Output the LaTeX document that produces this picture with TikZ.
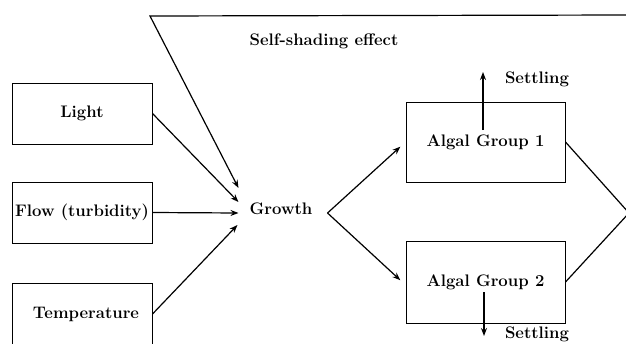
\documentclass[tikz,border=0pt]{standalone}
\usetikzlibrary{arrows.meta,calc}
\begin{document}
\begin{tikzpicture}[x=1pt,y=-1pt,
  every node/.style={font=\fontsize{16.7}{20}\selectfont\bfseries},
  box/.style={draw,line width=1pt,minimum width=140pt,minimum height=61pt,inner sep=0pt},
  agbox/.style={draw,line width=1pt,minimum width=159pt,inner sep=0pt},
  lbl/.style={inner sep=0pt},
  conn/.style={line width=1.2pt},
  arr/.style={conn,-{Stealth[length=8pt,width=6pt]}}]
\clip (0,0) rectangle (626,343);
\useasboundingbox (0,0) rectangle (626,343);
% input boxes
\node[box] (light) at (82,113.5) {Light};
\node[box] (flow) at (82,212.5) {Flow (turbidity)};
\node[box] (temp) at (82,314) {\hspace*{8pt}Temperature};
% growth
\node[lbl,inner xsep=13pt] (growth) at (281,209) {Growth};
% algal groups
\node[agbox,minimum height=80pt] (ag1) at (485.5,142) {Algal Group 1};
\node[agbox,minimum height=82pt] (ag2) at (485.5,282) {Algal Group 2};
% settling labels
\node[lbl] (set1) at (537,79) {Settling};
\node[lbl] (set2) at (537,334.5) {Settling};
% self-shading label
\node[lbl] (ss) at (324,41) {Self-shading effect};
% feedback coordinates
\coordinate (conv) at (629,213);
\coordinate (tr) at (629,15);
\coordinate (tl) at (150,16);
% connectors into growth
\draw[arr] (light.east) -- ($(growth.west)+(2,-7)$);
\draw[arr] (flow.east) -- ($(growth.west)+(2,4)$);
\draw[arr] (temp.east) -- ($(growth.west)+(1,16)$);
\draw[arr] (conv) -- (tr) -- (tl) -- ($(growth.west)+(2,-21)$);
% growth to algal groups
\draw[arr,shorten >=7pt] ($(growth.east)+(2,4)$) -- (ag1.west);
\draw[arr,shorten >=7pt] ($(growth.east)+(2,4)$) -- ($(ag2.west)+(0,3)$);
% algal groups to feedback
\draw[conn] (ag1.east) -- (conv);
\draw[conn] (ag2.east) -- (conv);
% settling
\draw[arr] ($(ag1.center)+(-2.5,-12)$) -- ($(ag1.center)+(-2.5,-70)$);
\draw[arr] ($(ag2.center)+(-1.5,10)$) -- ($(ag2.center)+(-1.5,54)$);
\end{tikzpicture}
\end{document}
